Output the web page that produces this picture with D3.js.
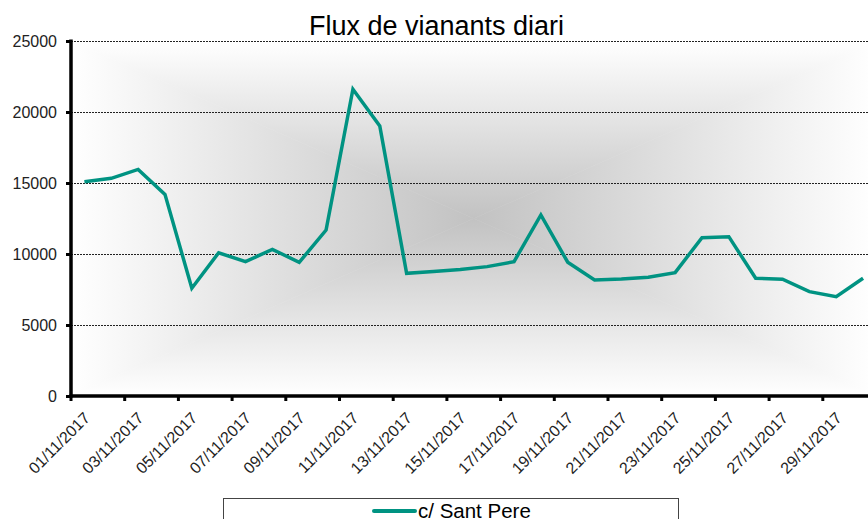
<!DOCTYPE html>
<html>
<head>
<meta charset="utf-8">
<script src="https://cdn.jsdelivr.net/npm/d3@7"></script>
<style>
  html, body { margin: 0; padding: 0; background: #fff; }
  svg { display: block; font-family: "Liberation Sans", Arial, sans-serif; }
</style>
</head>
<body>
<svg id="chart" width="868" height="519"></svg>
<script>
const title = "Flux de vianants diari";
const seriesName = "c/ Sant Pere";
const dates = [
  "01/11/2017","02/11/2017","03/11/2017","04/11/2017","05/11/2017",
  "06/11/2017","07/11/2017","08/11/2017","09/11/2017","10/11/2017",
  "11/11/2017","12/11/2017","13/11/2017","14/11/2017","15/11/2017",
  "16/11/2017","17/11/2017","18/11/2017","19/11/2017","20/11/2017",
  "21/11/2017","22/11/2017","23/11/2017","24/11/2017","25/11/2017",
  "26/11/2017","27/11/2017","28/11/2017","29/11/2017","30/11/2017"
];
const values = [
  15090, 15330, 15960, 14200, 7590, 10090, 9460, 10330, 9410, 11690,
  21600, 19010, 8640, 8770, 8910, 9110, 9460, 12750, 9420, 8170,
  8240, 8360, 8690, 11150, 11220, 8290, 8220, 7350, 7000, 8290
];
const yTicks = [0, 5000, 10000, 15000, 20000, 25000];

const svg = d3.select("#chart");
const W = 868;
const plot = { left: 71, right: 876.5, top: 41, bottom: 396 };

const x = d3.scaleBand().domain(dates).range([plot.left, plot.right]).padding(0);
const y = d3.scaleLinear().domain([0, 25000]).range([plot.bottom, plot.top]);

// background rectangular path gradient (four triangles)
const defs = svg.append("defs");
const cx = (plot.left + plot.right) / 2, cy = (plot.top + plot.bottom) / 2;
const edgeCol = "#ffffff", centerCol = "#c2c2c2";
function lg(id, x1, y1, x2, y2) {
  const g = defs.append("linearGradient").attr("id", id)
    .attr("gradientUnits", "userSpaceOnUse")
    .attr("x1", x1).attr("y1", y1).attr("x2", x2).attr("y2", y2);
  g.append("stop").attr("offset", 0).attr("stop-color", edgeCol);
  g.append("stop").attr("offset", 1).attr("stop-color", centerCol);
}
lg("gTop", 0, plot.top, 0, cy);
lg("gBot", 0, plot.bottom, 0, cy);
lg("gLeft", plot.left, 0, cx, 0);
lg("gRight", plot.right, 0, cx, 0);
const bg = svg.append("g");
const tri = (pts, fill) => bg.append("polygon")
  .attr("points", pts.map(p => p.join(",")).join(" "))
  .attr("fill", `url(#${fill})`).attr("stroke", `url(#${fill})`).attr("stroke-width", 0.6);
tri([[plot.left, plot.top], [plot.right, plot.top], [cx, cy]], "gTop");
tri([[plot.left, plot.bottom], [plot.right, plot.bottom], [cx, cy]], "gBot");
tri([[plot.left, plot.top], [plot.left, plot.bottom], [cx, cy]], "gLeft");
tri([[plot.right, plot.top], [plot.right, plot.bottom], [cx, cy]], "gRight");

// gridlines
svg.append("g").selectAll("line")
  .data(yTicks.filter(d => d > 0))
  .join("line")
  .attr("x1", plot.left).attr("x2", W)
  .attr("y1", d => Math.round(y(d)) + 0.5).attr("y2", d => Math.round(y(d)) + 0.5)
  .attr("stroke", "#222").attr("stroke-width", 1).attr("stroke-dasharray", "2,1");

// title
svg.append("text")
  .attr("x", 436.5).attr("y", 35)
  .attr("text-anchor", "middle")
  .attr("font-size", 27)
  .attr("fill", "#000")
  .text(title);

// y axis
const yAxis = d3.axisLeft(y).tickValues(yTicks).tickSize(5).tickPadding(9).tickFormat(d3.format("d"));
const gy = svg.append("g").attr("transform", `translate(${plot.left},0)`).call(yAxis);
gy.select(".domain").attr("stroke", "#000").attr("stroke-width", 3.5)
  .attr("d", `M0,${plot.top - 1.5}V${plot.bottom + 1.5}`);
gy.selectAll(".tick line").attr("stroke", "#000").attr("stroke-width", 3);
gy.selectAll(".tick text").attr("font-size", 16).attr("fill", "#222")
  .attr("font-family", "Liberation Sans, Arial, sans-serif");

// x axis
const tickDates = dates.filter((d, i) => i % 2 === 0);
const gx = svg.append("g").attr("transform", `translate(0,${plot.bottom})`);
gx.append("line").attr("x1", plot.left - 1.5).attr("x2", W)
  .attr("y1", 0).attr("y2", 0).attr("stroke", "#000").attr("stroke-width", 3.5);
gx.selectAll("line.tk").data(tickDates).join("line").attr("class", "tk")
  .attr("x1", d => x(d)).attr("x2", d => x(d))
  .attr("y1", 0).attr("y2", 5).attr("stroke", "#000").attr("stroke-width", 3);
gx.selectAll("text").data(tickDates).join("text")
  .attr("transform", d => `translate(${x(d) + x.bandwidth() / 2 + 6.5},${23}) rotate(-45)`)
  .attr("text-anchor", "end")
  .attr("font-size", 16)
  .attr("fill", "#222")
  .text(d => d);

// line
const line = d3.line()
  .x((d, i) => x(dates[i]) + x.bandwidth() / 2)
  .y(d => y(d));
svg.append("path").datum(values)
  .attr("d", line)
  .attr("fill", "none")
  .attr("stroke", "#009382")
  .attr("stroke-width", 3.5)
  .attr("stroke-linejoin", "miter");

// legend
const lgd = svg.append("g");
lgd.append("rect").attr("x", 223.5).attr("y", 498.5).attr("width", 455).attr("height", 40)
  .attr("fill", "#fff").attr("stroke", "#444").attr("stroke-width", 1);
lgd.append("line").attr("x1", 374).attr("x2", 415).attr("y1", 511).attr("y2", 511)
  .attr("stroke", "#009382").attr("stroke-width", 4).attr("stroke-linecap", "round");
lgd.append("text").attr("x", 418).attr("y", 518).attr("font-size", 20.5).attr("fill", "#000").text(seriesName);
</script>
</body>
</html>
